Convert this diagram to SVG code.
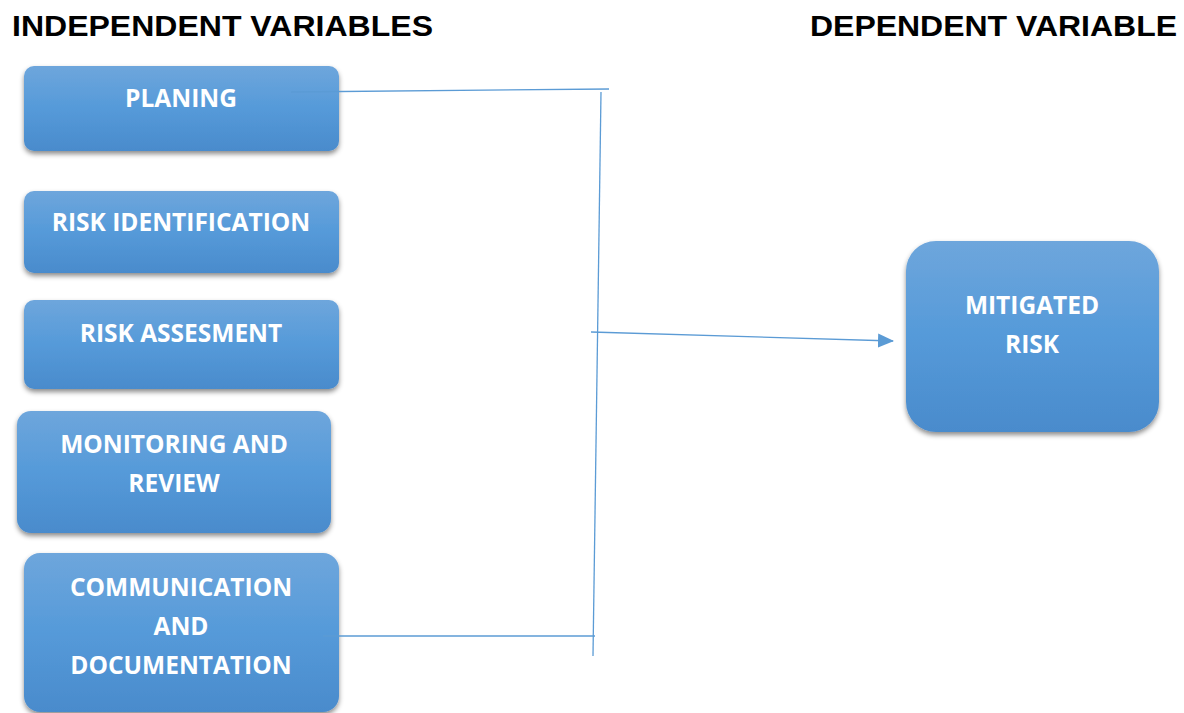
<svg xmlns="http://www.w3.org/2000/svg" width="1184" height="713" viewBox="0 0 1184 713">
  <style>
    .head { font-family: "Liberation Sans", Arial, sans-serif; font-weight: bold; font-size: 29px; fill: #000; }
    .box { fill: url(#boxFill); filter: url(#shadow); }
    .label { font-family: "Open Sans", "Noto Sans", sans-serif; font-weight: bold; font-size: 24.5px; fill: #fff; text-anchor: middle; }
    .wire { stroke: #5b9bd5; stroke-width: 1.3; fill: none; }
  </style>
  <defs>
    <linearGradient id="boxFill" x1="0" y1="0" x2="0" y2="1">
      <stop offset="0" stop-color="#6ea6dc"/>
      <stop offset="0.5" stop-color="#559ad9"/>
      <stop offset="1" stop-color="#4a8bcc"/>
    </linearGradient>
    <filter id="shadow" x="-10%" y="-10%" width="120%" height="130%">
      <feDropShadow dx="0" dy="3" stdDeviation="2.5" flood-color="#000" flood-opacity="0.45"/>
    </filter>
    <marker id="arrow" markerWidth="16" markerHeight="16" refX="15" refY="8" orient="auto" markerUnits="userSpaceOnUse">
      <path d="M0,1 L16,8 L0,15 Z" fill="#5b9bd5"/>
    </marker>
  </defs>

  <rect width="1184" height="713" fill="#fff"/>

  <text class="head" x="12" y="36" textLength="421" lengthAdjust="spacingAndGlyphs">INDEPENDENT VARIABLES</text>
  <text class="head" x="810" y="36" textLength="367" lengthAdjust="spacingAndGlyphs">DEPENDENT VARIABLE</text>

  <g id="planing">
    <rect class="box" x="24" y="66" width="315" height="85" rx="10"/>
    <text class="label" x="181" y="107">PLANING</text>
  </g>
  <g id="risk-identification">
    <rect class="box" x="24" y="191" width="315" height="82" rx="10"/>
    <text class="label" x="181" y="231">RISK IDENTIFICATION</text>
  </g>
  <g id="risk-assesment">
    <rect class="box" x="24" y="300" width="315" height="89" rx="10"/>
    <text class="label" x="181" y="342">RISK ASSESMENT</text>
  </g>
  <g id="monitoring-review">
    <rect class="box" x="17" y="411" width="314" height="122" rx="14"/>
    <text class="label" x="174" y="453">MONITORING AND</text>
    <text class="label" x="174" y="492">REVIEW</text>
  </g>
  <g id="communication-documentation">
    <rect class="box" x="24" y="553" width="315" height="159" rx="16"/>
    <text class="label" x="181" y="596">COMMUNICATION</text>
    <text class="label" x="181" y="635">AND</text>
    <text class="label" x="181" y="674">DOCUMENTATION</text>
  </g>
  <g id="mitigated-risk">
    <rect class="box" x="906" y="241" width="253" height="191" rx="30"/>
    <text class="label" x="1032" y="314">MITIGATED</text>
    <text class="label" x="1032" y="353">RISK</text>
  </g>

  <g id="connectors">
    <line class="wire" x1="291" y1="92" x2="609" y2="89"/>
    <line class="wire" x1="601" y1="92" x2="593" y2="656"/>
    <line class="wire" x1="323" y1="636" x2="595" y2="636"/>
    <line class="wire" x1="591" y1="332" x2="893" y2="341" marker-end="url(#arrow)"/>
  </g>
</svg>
